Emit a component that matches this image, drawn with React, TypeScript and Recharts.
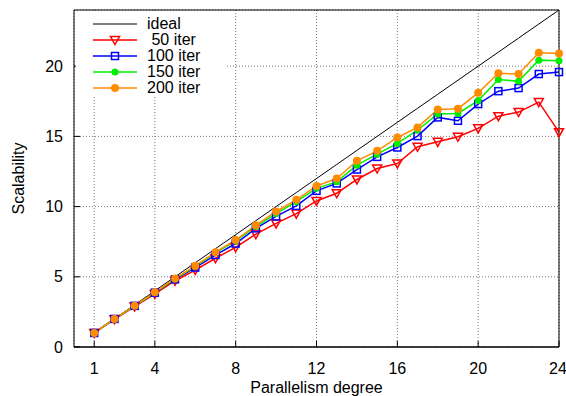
import React from 'react';
import {
  LineChart,
  Line,
  XAxis,
  YAxis,
  CartesianGrid,
  Legend,
  ReferenceLine
} from 'recharts';

const degrees = [1, 2, 3, 4, 5, 6, 7, 8, 9, 10, 11, 12, 13, 14, 15, 16, 17, 18, 19, 20, 21, 22, 23, 24];
const ideal = [1, 2, 3, 4, 5, 6, 7, 8, 9, 10, 11, 12, 13, 14, 15, 16, 17, 18, 19, 20, 21, 22, 23, 24];
const iter50 = [1, 1.97, 2.88, 3.78, 4.72, 5.48, 6.32, 7.1, 8.04, 8.8, 9.5, 10.4, 10.95, 11.93, 12.71, 13.07, 14.26, 14.61, 14.97, 15.57, 16.44, 16.73, 17.44, 15.3];
const iter100 = [1, 2, 2.93, 3.87, 4.82, 5.66, 6.55, 7.37, 8.45, 9.3, 10.05, 11.12, 11.65, 12.64, 13.54, 14.21, 15.02, 16.35, 16.11, 17.3, 18.22, 18.44, 19.44, 19.58];
const iter150 = [1, 2, 2.92, 3.88, 4.85, 5.75, 6.7, 7.55, 8.58, 9.5, 10.35, 11.3, 11.76, 12.95, 13.73, 14.5, 15.45, 16.6, 16.63, 17.55, 19.05, 18.92, 20.43, 20.39];
const iter200 = [1, 2, 2.93, 3.9, 4.88, 5.78, 6.75, 7.62, 8.67, 9.65, 10.48, 11.47, 12.0, 13.26, 13.97, 14.92, 15.64, 16.92, 16.97, 18.1, 19.49, 19.44, 20.96, 20.91];

const xTicks = [1, 4, 8, 12, 16, 20, 24];
const yTicks = [0, 5, 10, 15, 20];

const data = degrees.map((d, i) => ({
  degree: d,
  ideal: ideal[i],
  iter50: iter50[i],
  iter100: iter100[i],
  iter150: iter150[i],
  iter200: iter200[i]
}));

const RED = '#ff0000';
const BLUE = '#0000ff';
const GREEN = '#00ee00';
const ORANGE = '#ff8c00';
const FONT = '"Liberation Sans", Arial, sans-serif';

const Triangle = ({ cx, cy }: { cx: number; cy: number }) => (
  <path
    d={`M${cx - 4.5},${cy - 3.5} L${cx + 4.5},${cy - 3.5} L${cx},${cy + 4.5} Z`}
    fill="none"
    stroke={RED}
    strokeWidth={1.5}
  />
);

const Square = ({ cx, cy }: { cx: number; cy: number }) => (
  <rect x={cx - 3.5} y={cy - 3.5} width={7} height={7} fill="none" stroke={BLUE} strokeWidth={1.5} />
);

const Dot = ({ cx, cy, color, r }: { cx: number; cy: number; color: string; r: number }) => (
  <circle cx={cx} cy={cy} r={r} fill={color} stroke="none" />
);

const legendItems = [
  { label: 'ideal', color: '#000', marker: null },
  { label: ' 50 iter', color: RED, marker: 'tri' },
  { label: '100 iter', color: BLUE, marker: 'sq' },
  { label: '150 iter', color: GREEN, marker: 'c1' },
  { label: '200 iter', color: ORANGE, marker: 'c2' }
];

const LegendBox = () => (
  <svg width={150} height={86} style={{ display: 'block', background: '#fff' }}>
    {legendItems.map((item, i) => {
      const y = 13 + i * 16;
      return (
        <g key={item.label}>
          <line x1={17} x2={61} y1={y} y2={y} stroke={item.color} strokeWidth={item.marker ? 1.5 : 1} />
          {item.marker === 'tri' && <Triangle cx={39} cy={y} />}
          {item.marker === 'sq' && <Square cx={39} cy={y} />}
          {item.marker === 'c1' && <Dot cx={39} cy={y} color={GREEN} r={3.5} />}
          {item.marker === 'c2' && <Dot cx={39} cy={y} color={ORANGE} r={4} />}
          <text x={71} y={y + 5} fontSize={16} fontFamily={FONT} fill="#000" style={{ whiteSpace: 'pre' }}>
            {item.label}
          </text>
        </g>
      );
    })}
  </svg>
);

export default function App() {
  return (
    <div style={{ position: 'absolute', left: 0, top: 0 }}>
      <LineChart width={566} height={396} data={data} margin={{ top: 0, right: 0, left: 0, bottom: 0 }}>
        <CartesianGrid stroke="#777" strokeDasharray="1 2" />
        <XAxis
          dataKey="degree"
          type="number"
          domain={[0, 24]}
          ticks={xTicks}
          height={49}
          tickSize={-6}
          tickMargin={22}
          axisLine={{ stroke: '#000' }}
          tickLine={{ stroke: '#000' }}
          tick={{ fill: '#000', fontSize: 16, fontFamily: FONT }}
          label={{ value: 'Parallelism degree', position: 'insideBottom', offset: 3, fill: '#000', fontSize: 16, fontFamily: FONT }}
        />
        <XAxis
          xAxisId="top"
          orientation="top"
          type="number"
          domain={[0, 24]}
          ticks={xTicks}
          height={10}
          tickSize={-6}
          tick={false}
          axisLine={{ stroke: '#000' }}
          tickLine={{ stroke: '#000' }}
        />
        <YAxis
          type="number"
          domain={[0, 24]}
          ticks={yTicks}
          width={74}
          tickSize={-6}
          tickMargin={17}
          axisLine={{ stroke: '#000' }}
          tickLine={{ stroke: '#000' }}
          tick={{ fill: '#000', fontSize: 16, fontFamily: FONT }}
          label={{ value: 'Scalability', angle: -90, position: 'insideLeft', offset: 18, fill: '#000', fontSize: 16, fontFamily: FONT, style: { textAnchor: 'middle' } }}
        />
        <YAxis
          yAxisId="right"
          orientation="right"
          type="number"
          domain={[0, 24]}
          ticks={yTicks}
          width={7}
          tickSize={-6}
          tick={false}
          axisLine={{ stroke: '#000' }}
          tickLine={{ stroke: '#000' }}
        />
        <Legend
          layout="horizontal"
          verticalAlign="middle"
          align="center"
          content={() => <LegendBox />}
          wrapperStyle={{ left: 76, top: 11, width: 150, height: 86 }}
        />
        <Line dataKey="ideal" stroke="#000" strokeWidth={1} dot={false} isAnimationActive={false} />
        <Line
          dataKey="iter50"
          stroke={RED}
          strokeWidth={1.5}
          dot={(p: any) => <Triangle key={p.index} cx={p.cx} cy={p.cy} />}
          isAnimationActive={false}
        />
        <Line
          dataKey="iter100"
          stroke={BLUE}
          strokeWidth={1.5}
          dot={(p: any) => <Square key={p.index} cx={p.cx} cy={p.cy} />}
          isAnimationActive={false}
        />
        <Line
          dataKey="iter150"
          stroke={GREEN}
          strokeWidth={1.5}
          dot={(p: any) => <Dot key={p.index} cx={p.cx} cy={p.cy} color={GREEN} r={3.5} />}
          isAnimationActive={false}
        />
        <Line
          dataKey="iter200"
          stroke={ORANGE}
          strokeWidth={1.5}
          dot={(p: any) => <Dot key={p.index} cx={p.cx} cy={p.cy} color={ORANGE} r={4} />}
          isAnimationActive={false}
        />
        <ReferenceLine y={0} stroke="#000" />
      </LineChart>
    </div>
  );
}
